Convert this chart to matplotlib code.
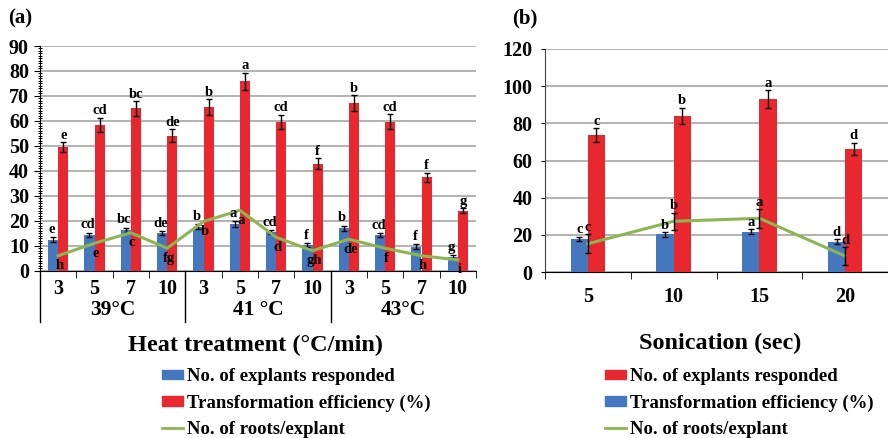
import numpy as np
import matplotlib
matplotlib.use("Agg")
import matplotlib.pyplot as plt
from matplotlib.patches import Patch
from matplotlib.lines import Line2D
import matplotlib.transforms as mtransforms

plt.rcParams['font.family'] = 'Liberation Serif'
plt.rcParams['font.weight'] = 'bold'

BLUE = '#4577BF'
RED = '#E8282E'
GREEN = '#8CB652'
GRID = '#A6A6A6'

# ---- panel (a): heat treatment ----
heat_times = ['3', '5', '7', '10'] * 3
heat_groups = ['39°C', '41 °C', '43°C']
heat_explants = [12.3, 14.3, 16.3, 15.0, 17.7, 18.8, 15.4, 10.3, 17.1, 14.3, 9.6, 5.6]
heat_explants_err = [1.0, 1.0, 1.0, 0.8, 1.0, 1.2, 0.8, 0.8, 1.0, 0.8, 1.0, 0.8]
heat_eff = [49.4, 58.5, 65.0, 54.1, 65.5, 75.9, 59.7, 42.9, 67.2, 59.7, 37.5, 24.0]
heat_eff_err = [2.0, 2.8, 3.0, 2.6, 3.2, 3.4, 2.8, 2.2, 3.2, 3.0, 1.8, 1.0]
heat_roots = [6.0, 11.0, 15.2, 9.0, 19.7, 24.2, 13.4, 8.0, 12.6, 9.0, 6.0, 4.3]
heat_explants_lbl = ['e', 'cd', 'bc', 'de', 'b', 'a', 'cd', 'f', 'b', 'cd', 'f', 'g']
heat_eff_lbl = ['e', 'cd', 'bc', 'de', 'b', 'a', 'cd', 'f', 'b', 'cd', 'f', 'g']
heat_roots_lbl = ['h', 'e', 'c', 'fg', 'b', 'a', 'd', 'gh', 'de', 'f', 'h', 'i']

# ---- panel (b): sonication ----
son_times = ['5', '10', '15', '20']
son_blue = [17.8, 20.3, 21.7, 16.3]
son_blue_err = [1.2, 1.2, 1.2, 1.2]
son_red = [73.7, 84.0, 93.1, 66.2]
son_red_err = [3.8, 4.3, 4.7, 3.4]
son_roots = [15.2, 27.3, 28.9, 8.6]
son_roots_err = [5.0, 4.5, 5.0, 4.6]
son_blue_lbl = ['c', 'b', 'a', 'd']
son_red_lbl = ['c', 'b', 'a', 'd']
son_roots_lbl = ['c', 'b', 'a', 'd']

fig = plt.figure(figsize=(8.88, 4.38), dpi=100)
W, H = 888, 438

def px_axes(l, t, r, b):
    return fig.add_axes([l / W, 1 - b / H, (r - l) / W, (b - t) / H])

lbl_fs = 10.5
tick_fs = 14.5
leg_fs = 13.5
ekw = dict(ecolor='black', elinewidth=1, capsize=2.5, capthick=1)
leg_kw = dict(loc='upper left', frameon=False, fontsize=leg_fs, handlelength=1.1, handleheight=0.4,
              handletextpad=0.25, labelspacing=0.5, borderpad=0, borderaxespad=0)

# ------------- (a) -------------
ax = px_axes(40, 46, 476, 270.7)
x = np.arange(len(heat_eff))
bw = 0.28
ax.bar(x - bw / 2, heat_explants, bw, color=BLUE, yerr=heat_explants_err, error_kw=ekw, zorder=3)
ax.bar(x + bw / 2, heat_eff, bw, color=RED, yerr=heat_eff_err, error_kw=ekw, zorder=3)
ax.plot(x, heat_roots, color=GREEN, lw=2.2, zorder=4)
for i in range(len(x)):
    ax.annotate(heat_explants_lbl[i], (x[i] - bw / 2, heat_explants[i] + heat_explants_err[i]),
                xytext=(-1, 0.8), textcoords='offset points', ha='center', va='bottom', fontsize=lbl_fs, zorder=5)
    ax.annotate(heat_eff_lbl[i], (x[i] + bw / 2, heat_eff[i] + heat_eff_err[i]),
                xytext=(0, 0.3), textcoords='offset points', ha='center', va='bottom', fontsize=lbl_fs, zorder=5)
    ax.annotate(heat_roots_lbl[i], (x[i], heat_roots[i]),
                xytext=(1, -2.5), textcoords='offset points', ha='center', va='top', fontsize=lbl_fs, zorder=5)
ax.set_xlim(-0.5, len(x) - 0.5)
ax.set_ylim(0, 90)
ax.set_yticks(np.arange(0, 91, 10))
ax.set_yticks(np.arange(0, 91, 1), minor=True)
ax.yaxis.grid(True, color=GRID, lw=1.2)
ax.set_axisbelow(True)
ax.set_xticks(x)
ax.set_xticklabels(heat_times, fontsize=tick_fs, fontweight='bold')
ax.set_xticks(np.arange(-0.5, len(x), 1), minor=True)
ax.tick_params(axis='x', which='major', length=0, pad=6)
ax.tick_params(axis='x', which='minor', length=5, direction='out')
ax.tick_params(axis='y', which='major', length=4, pad=4, labelsize=tick_fs)
ax.tick_params(axis='y', which='minor', length=3, direction='inout', width=0.7)
for lab in ax.get_yticklabels():
    lab.set_fontweight('bold')
for s in ['top', 'right']:
    ax.spines[s].set_visible(False)
trans = mtransforms.blended_transform_factory(ax.transData, ax.transAxes)
for gx in [-0.5, 3.5, 7.5]:
    ax.plot([gx, gx], [0, -0.228], color='black', lw=1, transform=trans, clip_on=False)
for gi, g in enumerate(heat_groups):
    ax.text(gi * 4 + 1.5, -0.177, g, transform=trans, ha='center', va='center', fontsize=15.5)
fig.text(255 / W, 1 - 345 / H, 'Heat treatment (°C/min)', ha='center', va='center', fontsize=17.5)
fig.text(8 / W, 1 - 18 / H, '(a)', ha='left', va='center', fontsize=15)

handles_a = [Patch(color=BLUE, label='No. of explants responded'),
             Patch(color=RED, label='Transformation efficiency (%)'),
             Line2D([], [], color=GREEN, lw=2, label='No. of roots/explant')]
fig.legend(handles=handles_a, bbox_to_anchor=(162 / W, 1 - 368 / H), **leg_kw)

# ------------- (b) -------------
bx = px_axes(545, 49, 888, 272)
xb = np.arange(len(son_red))
bw2 = 0.2
bx.bar(xb - bw2 / 2, son_blue, bw2, color=BLUE, yerr=son_blue_err, error_kw=ekw, zorder=3)
bx.bar(xb + bw2 / 2, son_red, bw2, color=RED, yerr=son_red_err, error_kw=ekw, zorder=3)
bx.plot(xb, son_roots, color=GREEN, lw=2.2, zorder=4)
bx.errorbar(xb, son_roots, yerr=son_roots_err, fmt='none', zorder=5, **ekw)
for i in range(len(xb)):
    bx.annotate(son_blue_lbl[i], (xb[i] - bw2 / 2, son_blue[i] + son_blue_err[i]),
                xytext=(0, 0.3), textcoords='offset points', ha='center', va='bottom', fontsize=lbl_fs, zorder=6)
    bx.annotate(son_red_lbl[i], (xb[i] + bw2 / 2, son_red[i] + son_red_err[i]),
                xytext=(0, 0.3), textcoords='offset points', ha='center', va='bottom', fontsize=lbl_fs, zorder=6)
    bx.annotate(son_roots_lbl[i], (xb[i], son_roots[i] + son_roots_err[i]),
                xytext=(0, 0.3), textcoords='offset points', ha='center', va='bottom', fontsize=lbl_fs, zorder=6)
bx.set_xlim(-0.5, -0.5 + 343 / 87)
bx.set_ylim(0, 120)
bx.set_yticks(np.arange(0, 121, 20))
bx.yaxis.grid(True, color=GRID, lw=1.2)
bx.set_axisbelow(True)
bx.set_xticks(xb)
bx.set_xticklabels(son_times, fontsize=tick_fs, fontweight='bold')
bx.set_xticks(np.arange(-0.5, len(xb), 1), minor=True)
bx.tick_params(axis='x', which='major', length=0, pad=11)
bx.tick_params(axis='x', which='minor', length=5, direction='out')
bx.tick_params(axis='y', which='major', length=3, pad=6, labelsize=tick_fs)
for lab in bx.get_yticklabels():
    lab.set_fontweight('bold')
for s in ['top', 'right']:
    bx.spines[s].set_visible(False)
bx.spines['left'].set_color('#404040')
fig.text(720 / W, 1 - 343 / H, 'Sonication (sec)', ha='center', va='center', fontsize=17.5)
fig.text(512 / W, 1 - 18 / H, '(b)', ha='left', va='center', fontsize=15)

handles_b = [Patch(color=RED, label='No. of explants responded'),
             Patch(color=BLUE, label='Transformation efficiency (%)'),
             Line2D([], [], color=GREEN, lw=2, label='No. of roots/explant')]
fig.legend(handles=handles_b, bbox_to_anchor=(605 / W, 1 - 368 / H), **leg_kw)

fig.savefig('out.png', dpi=100)
